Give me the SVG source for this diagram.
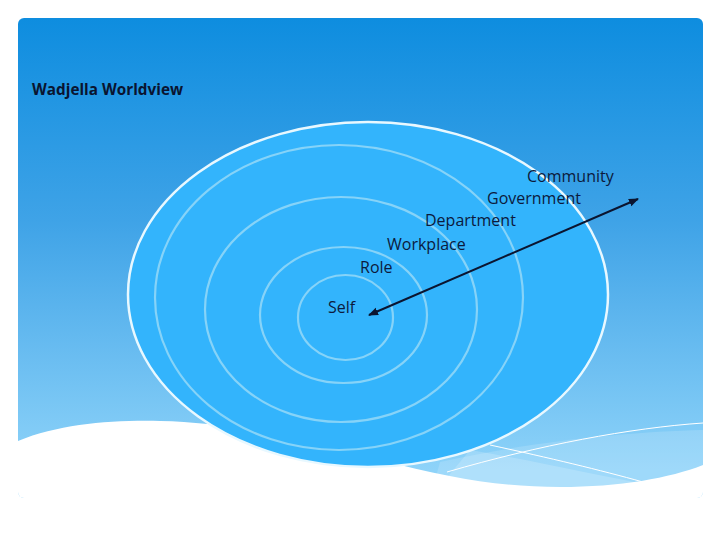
<svg xmlns="http://www.w3.org/2000/svg" width="720" height="540" viewBox="0 0 720 540">
<defs>
<linearGradient id="bg" x1="0" y1="18" x2="0" y2="470" gradientUnits="userSpaceOnUse">
<stop offset="0" stop-color="#0e8ddf"/>
<stop offset="0.45" stop-color="#3fa3e7"/>
<stop offset="1" stop-color="#8ed3f9"/>
</linearGradient>
<marker id="ah" viewBox="0 0 10 10" refX="9" refY="5" markerWidth="5" markerHeight="5" orient="auto-start-reverse" markerUnits="strokeWidth">
<path d="M0,1 L10,5 L0,9 z" fill="#0b1530"/>
</marker>
<clipPath id="bgclip"><rect x="18" y="18" width="685" height="480" rx="6"/></clipPath>
</defs>
<style>
.ring{fill:none;stroke:#86d3f8;stroke-width:2.2}
.lbl{font-family:"Open Sans","DejaVu Sans",sans-serif;font-size:16px;fill:#0c1a3c}
.title{font-family:"Open Sans","DejaVu Sans",sans-serif;font-size:15.3px;font-weight:bold;fill:#0a1430}
.wl{fill:none;stroke:#ffffff;stroke-width:1}
</style>
<rect width="720" height="540" fill="#ffffff"/>
<g id="background" clip-path="url(#bgclip)">
<rect x="18" y="18" width="685" height="480" fill="url(#bg)"/>
<path d="M440,462 C540,440 630,432 703,430 L703,498 L430,498 z" fill="#ffffff" opacity="0.15"/>
<path d="M470,450 C540,462 600,476 650,485 L430,498 z" fill="#ffffff" opacity="0.18"/>
<path d="M447,472 C540,445 630,428 703,423" class="wl"/>
<path d="M490,445 C550,458 600,470 643,482" class="wl"/>
<path d="M18,441 C60,424 110,420 160,421 C230,422 300,440 380,460 C450,478 500,487 560,487 C620,487 670,478 703,465 L703,540 L18,540 z" fill="#ffffff"/>
</g>
<g id="title"><text class="title" x="32" y="95">Wadjella Worldview</text></g>
<g id="outer"><ellipse cx="368" cy="294.5" rx="240" ry="172.5" fill="#33b4fc" stroke="#e8f8ff" stroke-width="2.5"/></g>
<g id="ringA"><ellipse class="ring" cx="339" cy="297.5" rx="184" ry="152.5"/></g>
<g id="ringB"><ellipse class="ring" cx="341" cy="309.5" rx="136" ry="112.5"/></g>
<g id="ringC"><ellipse class="ring" cx="343.5" cy="315" rx="83.5" ry="68"/></g>
<g id="ringD"><ellipse class="ring" cx="345.5" cy="317.5" rx="47.5" ry="42.5"/></g>
<g id="labels">
<text class="lbl" x="527" y="182">Community</text>
<text class="lbl" x="487" y="204">Government</text>
<text class="lbl" x="425" y="226">Department</text>
<text class="lbl" x="387" y="250">Workplace</text>
<text class="lbl" x="360" y="273">Role</text>
<text class="lbl" x="328" y="313">Self</text>
</g>
<g id="connectors">
<line x1="369" y1="315" x2="638" y2="199" stroke="#0b1530" stroke-width="2" marker-start="url(#ah)" marker-end="url(#ah)"/>
</g>
</svg>
